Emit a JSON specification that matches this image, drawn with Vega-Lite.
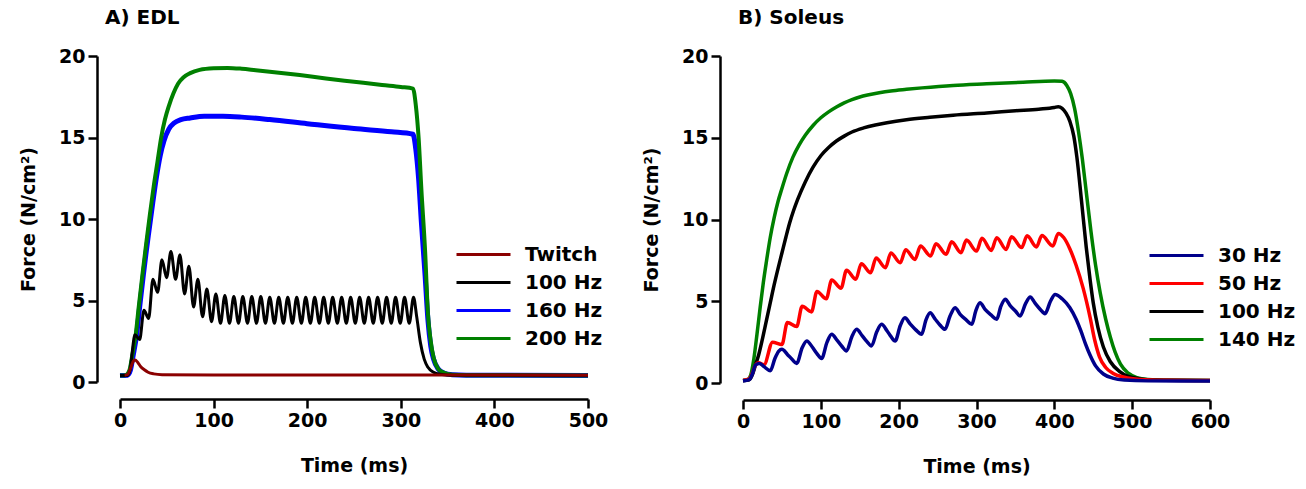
{
 "$schema": "https://vega.github.io/schema/vega-lite/v6.json",
 "background": "white",
 "padding": {"left": 19, "top": 8, "right": 0, "bottom": 0},
 "spacing": 34,
 "config": {
  "font": "DejaVu Sans",
  "view": {"stroke": null},
  "axis": {"grid": false, "domainColor": "black", "domainWidth": 2.5, "tickColor": "black", "tickWidth": 2.5, "tickSize": 9,
           "labelFont": "DejaVu Sans", "labelFontSize": 19, "labelFontWeight": "bold", "labelColor": "black",
           "titleFont": "DejaVu Sans", "titleFontSize": 19, "titleFontWeight": "bold", "titleColor": "black"},
  "axisX": {"labelPadding": 3, "titlePadding": 26, "labelFlush": false},
  "axisY": {"labelPadding": 3, "titlePadding": 20},
  "legend": {"labelFont": "DejaVu Sans", "labelFontSize": 20, "labelFontWeight": "bold", "labelColor": "black",
             "symbolType": "M-3,0L3,0", "symbolSize": 324, "symbolStrokeWidth": 3, "rowPadding": 7, "labelOffset": 31, "padding": 0},
  "title": {"font": "DejaVu Sans", "fontSize": 20, "fontWeight": "bold", "color": "black", "anchor": "start", "frame": "group"}
 },
 "datasets": {
  "edl": [
   {"s":"Twitch","t":5,"f":0.42},{"s":"Twitch","t":8,"f":0.45},{"s":"Twitch","t":11,"f":0.8},{"s":"Twitch","t":14,"f":1.25},{"s":"Twitch","t":16,"f":1.35},{"s":"Twitch","t":19,"f":1.2},{"s":"Twitch","t":22,"f":0.95},{"s":"Twitch","t":26,"f":0.75},{"s":"Twitch","t":30,"f":0.6},{"s":"Twitch","t":36,"f":0.5},{"s":"Twitch","t":45,"f":0.45},{"s":"Twitch","t":100,"f":0.43},{"s":"Twitch","t":500,"f":0.42},
   {"s":"100 Hz","t":0,"f":0.4},{"s":"100 Hz","t":8,"f":0.4},{"s":"100 Hz","t":11,"f":0.8},{"s":"100 Hz","t":13,"f":1.8},{"s":"100 Hz","t":16,"f":2.9},{"s":"100 Hz","t":21,"f":2.6},{"s":"100 Hz","t":25.6,"f":4.4},{"s":"100 Hz","t":30.6,"f":3.9},{"s":"100 Hz","t":35.2,"f":6.3},{"s":"100 Hz","t":40.2,"f":5.5},{"s":"100 Hz","t":44.8,"f":7.5},{"s":"100 Hz","t":49.8,"f":6.4},{"s":"100 Hz","t":54.4,"f":8.0},{"s":"100 Hz","t":59.4,"f":6.3},{"s":"100 Hz","t":64,"f":7.8},{"s":"100 Hz","t":69,"f":5.4},{"s":"100 Hz","t":73.6,"f":7.1},{"s":"100 Hz","t":78.6,"f":4.6},{"s":"100 Hz","t":83.2,"f":6.3},{"s":"100 Hz","t":88.2,"f":4.0},{"s":"100 Hz","t":92.8,"f":5.7},{"s":"100 Hz","t":97.8,"f":3.7},{"s":"100 Hz","t":102.4,"f":5.4},{"s":"100 Hz","t":107.4,"f":3.6},{"s":"100 Hz","t":112,"f":5.3},{"s":"100 Hz","t":117,"f":3.6},{"s":"100 Hz","t":121.6,"f":5.25},{"s":"100 Hz","t":126.6,"f":3.6},{"s":"100 Hz","t":131.2,"f":5.25},{"s":"100 Hz","t":136.2,"f":3.6},{"s":"100 Hz","t":140.8,"f":5.25},{"s":"100 Hz","t":145.8,"f":3.6},{"s":"100 Hz","t":150.4,"f":5.25},{"s":"100 Hz","t":155.4,"f":3.6},{"s":"100 Hz","t":160,"f":5.2},{"s":"100 Hz","t":165,"f":3.6},{"s":"100 Hz","t":169.6,"f":5.2},{"s":"100 Hz","t":174.6,"f":3.6},{"s":"100 Hz","t":179.2,"f":5.2},{"s":"100 Hz","t":184.2,"f":3.6},{"s":"100 Hz","t":188.8,"f":5.2},{"s":"100 Hz","t":193.8,"f":3.6},{"s":"100 Hz","t":198.4,"f":5.2},{"s":"100 Hz","t":203.4,"f":3.6},{"s":"100 Hz","t":208,"f":5.2},{"s":"100 Hz","t":213,"f":3.6},{"s":"100 Hz","t":217.6,"f":5.2},{"s":"100 Hz","t":222.6,"f":3.6},{"s":"100 Hz","t":227.2,"f":5.2},{"s":"100 Hz","t":232.2,"f":3.6},{"s":"100 Hz","t":236.8,"f":5.2},{"s":"100 Hz","t":241.8,"f":3.6},{"s":"100 Hz","t":246.4,"f":5.2},{"s":"100 Hz","t":251.4,"f":3.6},{"s":"100 Hz","t":256,"f":5.2},{"s":"100 Hz","t":261,"f":3.6},{"s":"100 Hz","t":265.6,"f":5.2},{"s":"100 Hz","t":270.6,"f":3.6},{"s":"100 Hz","t":275.2,"f":5.2},{"s":"100 Hz","t":280.2,"f":3.6},{"s":"100 Hz","t":284.8,"f":5.2},{"s":"100 Hz","t":289.8,"f":3.6},{"s":"100 Hz","t":294.4,"f":5.2},{"s":"100 Hz","t":299.4,"f":3.6},{"s":"100 Hz","t":304,"f":5.2},{"s":"100 Hz","t":309,"f":3.6},{"s":"100 Hz","t":313.6,"f":5.2},{"s":"100 Hz","t":317,"f":4.0},{"s":"100 Hz","t":321,"f":2.4},{"s":"100 Hz","t":325,"f":1.4},{"s":"100 Hz","t":329,"f":0.9},{"s":"100 Hz","t":335,"f":0.6},{"s":"100 Hz","t":342,"f":0.48},{"s":"100 Hz","t":355,"f":0.42},{"s":"100 Hz","t":500,"f":0.4},
   {"s":"160 Hz","t":0,"f":0.4},{"s":"160 Hz","t":8,"f":0.42},{"s":"160 Hz","t":11,"f":0.7},{"s":"160 Hz","t":14,"f":1.6},{"s":"160 Hz","t":18,"f":3.0},{"s":"160 Hz","t":21,"f":4.6},{"s":"160 Hz","t":25,"f":6.6},{"s":"160 Hz","t":28,"f":8.0},{"s":"160 Hz","t":31,"f":9.3},{"s":"160 Hz","t":35,"f":11.0},{"s":"160 Hz","t":39,"f":12.6},{"s":"160 Hz","t":43,"f":13.9},{"s":"160 Hz","t":47,"f":14.8},{"s":"160 Hz","t":52,"f":15.5},{"s":"160 Hz","t":58,"f":15.9},{"s":"160 Hz","t":65,"f":16.1},{"s":"160 Hz","t":75,"f":16.2},{"s":"160 Hz","t":90,"f":16.3},{"s":"160 Hz","t":110,"f":16.3},{"s":"160 Hz","t":130,"f":16.25},{"s":"160 Hz","t":160,"f":16.1},{"s":"160 Hz","t":200,"f":15.85},{"s":"160 Hz","t":250,"f":15.55},{"s":"160 Hz","t":290,"f":15.35},{"s":"160 Hz","t":313,"f":15.2},{"s":"160 Hz","t":316,"f":14.3},{"s":"160 Hz","t":319,"f":12.5},{"s":"160 Hz","t":322,"f":9.8},{"s":"160 Hz","t":326,"f":6.5},{"s":"160 Hz","t":329,"f":3.8},{"s":"160 Hz","t":332,"f":2.2},{"s":"160 Hz","t":335,"f":1.4},{"s":"160 Hz","t":340,"f":0.8},{"s":"160 Hz","t":346,"f":0.55},{"s":"160 Hz","t":355,"f":0.45},{"s":"160 Hz","t":370,"f":0.42},{"s":"160 Hz","t":500,"f":0.4},
   {"s":"200 Hz","t":0,"f":0.4},{"s":"200 Hz","t":6,"f":0.42},{"s":"200 Hz","t":10,"f":0.7},{"s":"200 Hz","t":13,"f":1.6},{"s":"200 Hz","t":17,"f":3.0},{"s":"200 Hz","t":20,"f":4.6},{"s":"200 Hz","t":24,"f":6.6},{"s":"200 Hz","t":28,"f":8.5},{"s":"200 Hz","t":32,"f":10.3},{"s":"200 Hz","t":36,"f":12.0},{"s":"200 Hz","t":40,"f":13.5},{"s":"200 Hz","t":44,"f":15.0},{"s":"200 Hz","t":48,"f":16.1},{"s":"200 Hz","t":52,"f":16.9},{"s":"200 Hz","t":57,"f":17.7},{"s":"200 Hz","t":62,"f":18.3},{"s":"200 Hz","t":68,"f":18.7},{"s":"200 Hz","t":75,"f":18.95},{"s":"200 Hz","t":85,"f":19.15},{"s":"200 Hz","t":100,"f":19.25},{"s":"200 Hz","t":115,"f":19.27},{"s":"200 Hz","t":130,"f":19.22},{"s":"200 Hz","t":145,"f":19.13},{"s":"200 Hz","t":160,"f":19.04},{"s":"200 Hz","t":192,"f":18.83},{"s":"200 Hz","t":220,"f":18.62},{"s":"200 Hz","t":250,"f":18.42},{"s":"200 Hz","t":280,"f":18.22},{"s":"200 Hz","t":300,"f":18.1},{"s":"200 Hz","t":313,"f":18.0},{"s":"200 Hz","t":316,"f":17.0},{"s":"200 Hz","t":319,"f":15.0},{"s":"200 Hz","t":322,"f":11.8},{"s":"200 Hz","t":326,"f":8.0},{"s":"200 Hz","t":329,"f":4.2},{"s":"200 Hz","t":332,"f":2.5},{"s":"200 Hz","t":335,"f":1.5},{"s":"200 Hz","t":340,"f":0.8},{"s":"200 Hz","t":345,"f":0.6},{"s":"200 Hz","t":355,"f":0.45},{"s":"200 Hz","t":370,"f":0.42},{"s":"200 Hz","t":500,"f":0.4}
  ],
  "sol": [
   {"s":"140 Hz","t":0,"f":0.15},{"s":"140 Hz","t":6,"f":0.2},{"s":"140 Hz","t":10,"f":0.5},{"s":"140 Hz","t":14,"f":1.5},{"s":"140 Hz","t":18,"f":3.0},{"s":"140 Hz","t":22,"f":4.6},{"s":"140 Hz","t":26,"f":6.1},{"s":"140 Hz","t":30,"f":7.4},{"s":"140 Hz","t":35,"f":8.9},{"s":"140 Hz","t":40,"f":10.1},{"s":"140 Hz","t":45,"f":11.1},{"s":"140 Hz","t":50,"f":11.9},{"s":"140 Hz","t":56,"f":12.8},{"s":"140 Hz","t":64,"f":13.8},{"s":"140 Hz","t":72,"f":14.55},{"s":"140 Hz","t":80,"f":15.15},{"s":"140 Hz","t":90,"f":15.75},{"s":"140 Hz","t":100,"f":16.22},{"s":"140 Hz","t":110,"f":16.58},{"s":"140 Hz","t":120,"f":16.88},{"s":"140 Hz","t":130,"f":17.13},{"s":"140 Hz","t":140,"f":17.33},{"s":"140 Hz","t":150,"f":17.49},{"s":"140 Hz","t":160,"f":17.61},{"s":"140 Hz","t":175,"f":17.75},{"s":"140 Hz","t":190,"f":17.86},{"s":"140 Hz","t":210,"f":17.96},{"s":"140 Hz","t":230,"f":18.05},{"s":"140 Hz","t":270,"f":18.2},{"s":"140 Hz","t":313,"f":18.3},{"s":"140 Hz","t":360,"f":18.4},{"s":"140 Hz","t":400,"f":18.47},{"s":"140 Hz","t":410,"f":18.45},{"s":"140 Hz","t":416,"f":18.2},{"s":"140 Hz","t":421,"f":17.7},{"s":"140 Hz","t":426,"f":16.8},{"s":"140 Hz","t":431,"f":15.4},{"s":"140 Hz","t":436,"f":13.7},{"s":"140 Hz","t":441,"f":11.7},{"s":"140 Hz","t":447,"f":9.3},{"s":"140 Hz","t":453,"f":7.2},{"s":"140 Hz","t":459,"f":5.5},{"s":"140 Hz","t":466,"f":3.9},{"s":"140 Hz","t":472,"f":2.8},{"s":"140 Hz","t":478,"f":1.9},{"s":"140 Hz","t":485,"f":1.15},{"s":"140 Hz","t":495,"f":0.6},{"s":"140 Hz","t":506,"f":0.33},{"s":"140 Hz","t":520,"f":0.22},{"s":"140 Hz","t":550,"f":0.17},{"s":"140 Hz","t":600,"f":0.15},
   {"s":"100 Hz","t":0,"f":0.15},{"s":"100 Hz","t":8,"f":0.2},{"s":"100 Hz","t":12,"f":0.5},{"s":"100 Hz","t":16,"f":1.1},{"s":"100 Hz","t":20,"f":1.7},{"s":"100 Hz","t":25,"f":2.7},{"s":"100 Hz","t":30,"f":3.8},{"s":"100 Hz","t":35,"f":4.9},{"s":"100 Hz","t":40,"f":6.0},{"s":"100 Hz","t":45,"f":7.0},{"s":"100 Hz","t":50,"f":7.95},{"s":"100 Hz","t":55,"f":8.9},{"s":"100 Hz","t":60,"f":9.8},{"s":"100 Hz","t":65,"f":10.55},{"s":"100 Hz","t":70,"f":11.2},{"s":"100 Hz","t":80,"f":12.3},{"s":"100 Hz","t":90,"f":13.2},{"s":"100 Hz","t":100,"f":13.9},{"s":"100 Hz","t":110,"f":14.4},{"s":"100 Hz","t":120,"f":14.8},{"s":"100 Hz","t":130,"f":15.1},{"s":"100 Hz","t":140,"f":15.35},{"s":"100 Hz","t":155,"f":15.6},{"s":"100 Hz","t":170,"f":15.78},{"s":"100 Hz","t":185,"f":15.92},{"s":"100 Hz","t":210,"f":16.1},{"s":"100 Hz","t":240,"f":16.25},{"s":"100 Hz","t":270,"f":16.38},{"s":"100 Hz","t":313,"f":16.52},{"s":"100 Hz","t":350,"f":16.65},{"s":"100 Hz","t":380,"f":16.75},{"s":"100 Hz","t":400,"f":16.85},{"s":"100 Hz","t":405,"f":16.9},{"s":"100 Hz","t":410,"f":16.8},{"s":"100 Hz","t":415,"f":16.5},{"s":"100 Hz","t":420,"f":16.0},{"s":"100 Hz","t":425,"f":15.1},{"s":"100 Hz","t":429,"f":13.8},{"s":"100 Hz","t":435,"f":11.1},{"s":"100 Hz","t":441,"f":8.3},{"s":"100 Hz","t":446,"f":6.3},{"s":"100 Hz","t":450,"f":4.9},{"s":"100 Hz","t":456,"f":3.4},{"s":"100 Hz","t":463,"f":2.2},{"s":"100 Hz","t":472,"f":1.3},{"s":"100 Hz","t":484,"f":0.7},{"s":"100 Hz","t":495,"f":0.4},{"s":"100 Hz","t":510,"f":0.25},{"s":"100 Hz","t":530,"f":0.18},{"s":"100 Hz","t":600,"f":0.15},
   {"s":"50 Hz","t":0,"f":0.15},{"s":"50 Hz","t":8,"f":0.25},{"s":"50 Hz","t":12,"f":0.6},{"s":"50 Hz","t":16,"f":1.1},{"s":"50 Hz","t":20,"f":1.24},{"s":"50 Hz","t":27,"f":1.12},{"s":"50 Hz","t":38,"f":2.5},{"s":"50 Hz","t":50,"f":2.35},{"s":"50 Hz","t":57,"f":3.7},{"s":"50 Hz","t":69,"f":3.45},{"s":"50 Hz","t":76,"f":4.7},{"s":"50 Hz","t":88,"f":4.35},{"s":"50 Hz","t":95,"f":5.6},{"s":"50 Hz","t":107,"f":5.15},{"s":"50 Hz","t":114,"f":6.3},{"s":"50 Hz","t":126,"f":5.8},{"s":"50 Hz","t":133,"f":6.9},{"s":"50 Hz","t":145,"f":6.35},{"s":"50 Hz","t":152,"f":7.3},{"s":"50 Hz","t":164,"f":6.75},{"s":"50 Hz","t":171,"f":7.65},{"s":"50 Hz","t":183,"f":7.05},{"s":"50 Hz","t":190,"f":7.95},{"s":"50 Hz","t":202,"f":7.35},{"s":"50 Hz","t":209,"f":8.15},{"s":"50 Hz","t":221,"f":7.56},{"s":"50 Hz","t":228,"f":8.38},{"s":"50 Hz","t":241,"f":7.77},{"s":"50 Hz","t":248,"f":8.52},{"s":"50 Hz","t":261,"f":7.87},{"s":"50 Hz","t":268,"f":8.64},{"s":"50 Hz","t":280,"f":7.97},{"s":"50 Hz","t":287,"f":8.74},{"s":"50 Hz","t":300,"f":8.07},{"s":"50 Hz","t":307,"f":8.85},{"s":"50 Hz","t":319,"f":8.11},{"s":"50 Hz","t":326,"f":8.89},{"s":"50 Hz","t":338,"f":8.17},{"s":"50 Hz","t":345,"f":8.95},{"s":"50 Hz","t":358,"f":8.28},{"s":"50 Hz","t":365,"f":9.0},{"s":"50 Hz","t":377,"f":8.32},{"s":"50 Hz","t":384,"f":9.02},{"s":"50 Hz","t":398,"f":8.38},{"s":"50 Hz","t":405,"f":9.15},{"s":"50 Hz","t":412,"f":8.9},{"s":"50 Hz","t":420,"f":8.2},{"s":"50 Hz","t":428,"f":7.2},{"s":"50 Hz","t":437,"f":5.8},{"s":"50 Hz","t":446,"f":4.0},{"s":"50 Hz","t":452,"f":2.6},{"s":"50 Hz","t":458,"f":1.6},{"s":"50 Hz","t":466,"f":0.95},{"s":"50 Hz","t":475,"f":0.6},{"s":"50 Hz","t":490,"f":0.35},{"s":"50 Hz","t":510,"f":0.22},{"s":"50 Hz","t":540,"f":0.17},{"s":"50 Hz","t":600,"f":0.15},
   {"s":"30 Hz","t":0,"f":0.12},{"s":"30 Hz","t":8,"f":0.2},{"s":"30 Hz","t":12,"f":0.55},{"s":"30 Hz","t":16,"f":1.1},{"s":"30 Hz","t":21,"f":1.2},{"s":"30 Hz","t":27,"f":1.0},{"s":"30 Hz","t":35,"f":0.75},{"s":"30 Hz","t":41,"f":1.5},{"s":"30 Hz","t":46,"f":1.95},{"s":"30 Hz","t":50,"f":2.06},{"s":"30 Hz","t":57,"f":1.75},{"s":"30 Hz","t":63,"f":1.45},{"s":"30 Hz","t":69,"f":1.2},{"s":"30 Hz","t":76,"f":2.15},{"s":"30 Hz","t":82,"f":2.57},{"s":"30 Hz","t":89,"f":2.2},{"s":"30 Hz","t":95,"f":1.8},{"s":"30 Hz","t":101,"f":1.5},{"s":"30 Hz","t":108,"f":2.5},{"s":"30 Hz","t":114,"f":2.98},{"s":"30 Hz","t":121,"f":2.6},{"s":"30 Hz","t":127,"f":2.25},{"s":"30 Hz","t":133,"f":1.96},{"s":"30 Hz","t":140,"f":2.85},{"s":"30 Hz","t":146,"f":3.28},{"s":"30 Hz","t":153,"f":2.9},{"s":"30 Hz","t":159,"f":2.55},{"s":"30 Hz","t":165,"f":2.26},{"s":"30 Hz","t":172,"f":3.15},{"s":"30 Hz","t":178,"f":3.59},{"s":"30 Hz","t":185,"f":3.2},{"s":"30 Hz","t":190,"f":2.85},{"s":"30 Hz","t":195.5,"f":2.57},{"s":"30 Hz","t":202,"f":3.5},{"s":"30 Hz","t":208,"f":3.99},{"s":"30 Hz","t":215,"f":3.6},{"s":"30 Hz","t":222,"f":3.25},{"s":"30 Hz","t":229.5,"f":2.98},{"s":"30 Hz","t":235,"f":3.85},{"s":"30 Hz","t":240.5,"f":4.3},{"s":"30 Hz","t":247,"f":3.9},{"s":"30 Hz","t":253,"f":3.55},{"s":"30 Hz","t":259.5,"f":3.28},{"s":"30 Hz","t":266,"f":4.1},{"s":"30 Hz","t":272.5,"f":4.61},{"s":"30 Hz","t":279,"f":4.2},{"s":"30 Hz","t":287,"f":3.85},{"s":"30 Hz","t":294,"f":3.59},{"s":"30 Hz","t":299,"f":4.4},{"s":"30 Hz","t":304.5,"f":4.91},{"s":"30 Hz","t":311,"f":4.5},{"s":"30 Hz","t":319,"f":4.15},{"s":"30 Hz","t":326,"f":3.9},{"s":"30 Hz","t":331,"f":4.65},{"s":"30 Hz","t":337,"f":5.12},{"s":"30 Hz","t":343,"f":4.75},{"s":"30 Hz","t":350,"f":4.4},{"s":"30 Hz","t":356,"f":4.1},{"s":"30 Hz","t":363,"f":4.85},{"s":"30 Hz","t":369,"f":5.26},{"s":"30 Hz","t":375,"f":4.9},{"s":"30 Hz","t":382,"f":4.5},{"s":"30 Hz","t":388,"f":4.24},{"s":"30 Hz","t":395,"f":5.0},{"s":"30 Hz","t":401,"f":5.42},{"s":"30 Hz","t":410,"f":5.15},{"s":"30 Hz","t":420,"f":4.6},{"s":"30 Hz","t":428,"f":3.9},{"s":"30 Hz","t":434,"f":3.2},{"s":"30 Hz","t":440,"f":2.4},{"s":"30 Hz","t":446,"f":1.7},{"s":"30 Hz","t":453,"f":1.05},{"s":"30 Hz","t":463,"f":0.55},{"s":"30 Hz","t":475,"f":0.3},{"s":"30 Hz","t":490,"f":0.18},{"s":"30 Hz","t":520,"f":0.13},{"s":"30 Hz","t":600,"f":0.12}
  ]
 },
 "hconcat": [
  {
   "width": 468, "height": 326,
   "title": {"text": "A) EDL", "dx": -15, "offset": 19},
   "data": {"name": "edl"},
   "encoding": {
    "x": {"field": "t", "type": "quantitative", "scale": {"domain": [0, 500], "nice": false}, "axis": {"title": "Time (ms)", "values": [0, 100, 200, 300, 400, 500], "offset": 17}},
    "y": {"field": "f", "type": "quantitative", "scale": {"domain": [0, 20], "nice": false}, "axis": {"title": "Force (N/cm²)", "values": [0, 5, 10, 15, 20], "offset": 23}},
    "color": {"field": "s", "type": "nominal", "scale": {"domain": ["Twitch", "100 Hz", "160 Hz", "200 Hz"], "range": ["#8B0000", "#000000", "#0000FF", "#008000"]},
              "legend": {"title": null, "orient": "none", "legendX": 353, "legendY": 188}}
   },
   "layer": [
    {"transform": [{"filter": "datum.s === '160 Hz'"}], "mark": {"type": "line", "strokeWidth": 5, "interpolate": "monotone"}},
    {"transform": [{"filter": "datum.s === '200 Hz'"}], "mark": {"type": "line", "strokeWidth": 4, "interpolate": "monotone"}},
    {"transform": [{"filter": "datum.s === '100 Hz'"}], "mark": {"type": "line", "strokeWidth": 3, "interpolate": "monotone"}},
    {"transform": [{"filter": "datum.s === 'Twitch'"}], "mark": {"type": "line", "strokeWidth": 3, "interpolate": "monotone"}}
   ]
  },
  {
   "width": 467, "height": 327,
   "title": {"text": "B) Soleus", "dx": -5, "offset": 19},
   "data": {"name": "sol"},
   "encoding": {
    "x": {"field": "t", "type": "quantitative", "scale": {"domain": [0, 600], "nice": false}, "axis": {"title": "Time (ms)", "values": [0, 100, 200, 300, 400, 500, 600], "offset": 17}},
    "y": {"field": "f", "type": "quantitative", "scale": {"domain": [0, 20], "nice": false}, "axis": {"title": "Force (N/cm²)", "values": [0, 5, 10, 15, 20], "offset": 23}},
    "color": {"field": "s", "type": "nominal", "scale": {"domain": ["30 Hz", "50 Hz", "100 Hz", "140 Hz"], "range": ["#00008B", "#FF0000", "#000000", "#008000"]},
              "legend": {"title": null, "orient": "none", "legendX": 423, "legendY": 189}}
   },
   "layer": [
    {"transform": [{"filter": "datum.s === '140 Hz'"}], "mark": {"type": "line", "strokeWidth": 3.5, "interpolate": "monotone"}},
    {"transform": [{"filter": "datum.s === '100 Hz'"}], "mark": {"type": "line", "strokeWidth": 3.5, "interpolate": "monotone"}},
    {"transform": [{"filter": "datum.s === '50 Hz'"}], "mark": {"type": "line", "strokeWidth": 3.5, "interpolate": "monotone"}},
    {"transform": [{"filter": "datum.s === '30 Hz'"}], "mark": {"type": "line", "strokeWidth": 3.5, "interpolate": "monotone"}}
   ]
  }
 ],
 "resolve": {"scale": {"color": "independent"}}
}
